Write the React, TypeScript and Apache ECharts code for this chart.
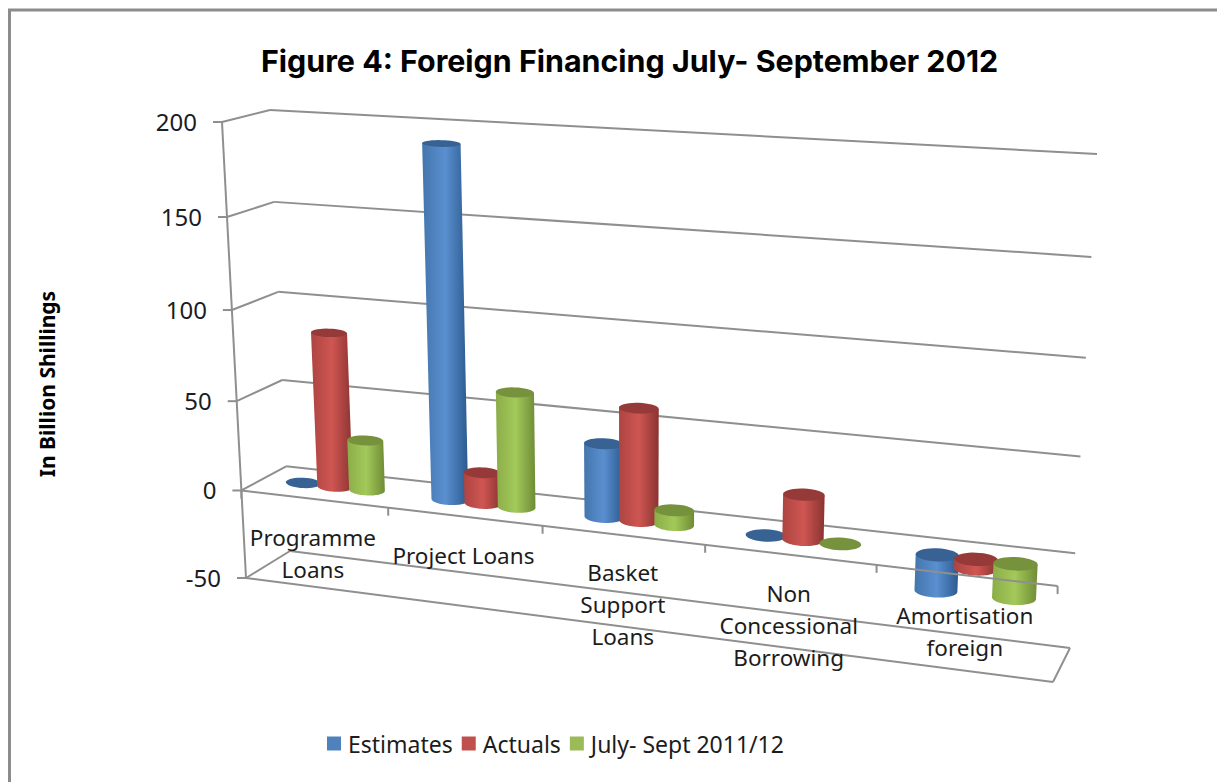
import React, { useEffect, useRef } from "react";
import * as echarts from "echarts";

const categories = ["Programme\nLoans", "Project Loans", "Basket\nSupport\nLoans", "Non\nConcessional\nBorrowing", "Amortisation\nforeign"];
const estimates = [0, 192, 40, 0, -19];
const actuals = [86, 17, 61, 24, -5];
const priorYear = [28, 63, 8, 0, -18];
const valueTicks = [200, 150, 100, 50, 0, -50];

const seriesNames = ["Estimates", "Actuals", "July- Sept 2011/12"];
const legendColors = ["#4f81bd", "#c0504d", "#9bbb59"];
// edge, centre and cap tones of each cylinder
const cylinderTones = [
  { edgeL: "#4476ad", mid: "#5a8fd0", edgeR: "#2c5a8e", cap: "#376293" },
  { edgeL: "#ad4441", mid: "#cf5652", edgeR: "#8a3331", cap: "#953a38" },
  { edgeL: "#8bad48", mid: "#a3c95a", edgeR: "#6f8c35", cap: "#76923c" },
];

const TEXT = "#1c1c1c";
const LINE = "#8f8f8f";
const SANS = "'Noto Sans', sans-serif";

// Corners of the plot box on screen: front/back, left/right, top (max) / bottom (min)
const FL = { top: [222, 122], bot: [246, 578] };
const FR = { top: [1077, 182], bot: [1053, 682] };
const BL = { top: [270, 110], bot: [290, 551] };
const BR = { top: [1097, 154], bot: [1070, 648] };

const lerp = (a: number, b: number, t: number) => a + (b - a) * t;
const lerp2 = (p: number[], q: number[], t: number) => [lerp(p[0], q[0], t), lerp(p[1], q[1], t)];
// foreshortening along an edge
const warp = (t: number, k: number) => t / (t + k * (1 - t));

// u: 0..1 along the categories, h: 0..1 from axis min to max, d: 0 front .. 1 back
function project(u: number, h: number, d: number) {
  const su = warp(u, 1.14);
  const sf = warp(1 - h, 0.95);
  const fl = lerp2(FL.top, FL.bot, sf);
  const fr = lerp2(FR.top, FR.bot, sf);
  const bl = lerp2(BL.top, BL.bot, sf);
  const br = lerp2(BR.top, BR.bot, sf);
  return lerp2(lerp2(fl, fr, su), lerp2(bl, br, su), d);
}

// Normalises a pixel from the cartesian grid into box coordinates
function toBox(api: any, params: any, cat: number, value: number, bandOffset = 0) {
  const cs = params.coordSys;
  const p = api.coord([cat, value]);
  const band = api.size([1, 0])[0];
  return {
    u: (p[0] + bandOffset * band - cs.x) / cs.width,
    h: (cs.y + cs.height - p[1]) / cs.height,
  };
}

const hLevel = (api: any, params: any, value: number) => toBox(api, params, 0, value).h;

const seg = (a: number[], b: number[]) => ({
  type: "line",
  shape: { x1: a[0], y1: a[1], x2: b[0], y2: b[1] },
  style: { stroke: LINE, lineWidth: 2 },
  silent: true,
});

function renderWalls(params: any, api: any) {
  const children: any[] = [];
  valueTicks.forEach((v) => {
    const h = hLevel(api, params, v);
    const front = project(0, h, 0);
    const back = project(0, h, 1);
    const right = project(1, h, 1);
    children.push(seg([front[0] - 9, front[1]], front), seg(front, back), seg(back, right));
    children.push({
      type: "text",
      style: { text: String(v), x: front[0] - 25, y: front[1] - 1, align: "right", verticalAlign: "middle", font: `24px ${SANS}`, fill: TEXT },
    });
  });
  const hTop = hLevel(api, params, valueTicks[0]);
  const hBot = hLevel(api, params, valueTicks[valueTicks.length - 1]);
  children.push(seg(project(0, hTop, 0), project(0, hBot, 0)));
  children.push(seg(project(0, hBot, 0), project(1, hBot, 0)));
  children.push(seg(project(1, hBot, 0), project(1, hBot, 1)));
  return { type: "group", children };
}

function renderFrontAxis(params: any, api: any) {
  const h0 = hLevel(api, params, 0);
  const children: any[] = [seg(project(0, h0, 0), project(1, h0, 0))];
  for (let i = 0; i <= categories.length; i++) {
    const p = project(i / categories.length, h0, 0);
    children.push(seg(p, [p[0], p[1] + 8]));
  }
  return { type: "group", children };
}

const labelNudge = [[-1, -2], [-1, -18], [0, 12], [-1, 14], [-1, -1]];

function renderCategoryLabel(params: any, api: any) {
  const i = params.dataIndex;
  const { u, h } = toBox(api, params, i, 0);
  const p = project(u, h, 0);
  return {
    type: "text",
    style: {
      text: categories[i],
      x: p[0] + labelNudge[i][0],
      y: p[1] + 57 + labelNudge[i][1],
      align: "center",
      verticalAlign: "middle",
      font: `22.5px ${SANS}`,
      lineHeight: 32,
      fill: TEXT,
    },
  };
}

const HALF_DEPTH = 0.21;
const RADIUS = 0.0245;
const CENTRE_STEP = 0.044;

function ellipsePoints(c: number[], a: number, b: number, tilt: number, from: number, to: number, n = 36) {
  const pts: number[][] = [];
  for (let i = 0; i <= n; i++) {
    const t = lerp(from, to, i / n);
    pts.push([c[0] + a * Math.cos(t), c[1] + a * tilt * Math.cos(t) + b * Math.sin(t)]);
  }
  return pts;
}

function capGeometry(u: number, h: number) {
  const c = project(u, h, 0.5);
  const l = project(u - RADIUS, h, 0.5);
  const r = project(u + RADIUS, h, 0.5);
  const a = (r[0] - l[0]) / 2;
  const tilt = ((r[1] - l[1]) / (r[0] - l[0])) * 0.35;
  const b = (project(u, h, 0)[1] - project(u, h, 1)[1]) * HALF_DEPTH;
  return { c, a, b, tilt };
}

function makeCylinderRenderer(seriesIndex: number) {
  const tone = cylinderTones[seriesIndex];
  return (params: any, api: any) => {
    const cat = api.value(0);
    const val = api.value(1);
    const offset = (seriesIndex - 1) * (CENTRE_STEP * categories.length);
    const high = toBox(api, params, cat, Math.max(val, 0), offset);
    const low = toBox(api, params, cat, Math.min(val, 0), offset);
    const capTop = capGeometry(high.u, high.h);
    const capLow = capGeometry(low.u, low.h);
    const children: any[] = [];
    if (val !== 0) {
      const lowerArc = ellipsePoints(capLow.c, capLow.a, capLow.b, capLow.tilt, Math.PI, 0);
      const left = [capTop.c[0] - capTop.a, capTop.c[1] - capTop.a * capTop.tilt];
      const right = [capTop.c[0] + capTop.a, capTop.c[1] + capTop.a * capTop.tilt];
      children.push({
        type: "polygon",
        shape: { points: [left, ...lowerArc, right] },
        style: {
          fill: new echarts.graphic.LinearGradient(0, 0, 1, 0, [
            { offset: 0, color: tone.edgeL },
            { offset: 0.5, color: tone.mid },
            { offset: 1, color: tone.edgeR },
          ]),
        },
      });
    }
    children.push({
      type: "polygon",
      shape: { points: ellipsePoints(capTop.c, capTop.a, capTop.b, capTop.tilt, 0, Math.PI * 2) },
      style: { fill: tone.cap },
    });
    return { type: "group", children };
  };
}

const valuesBySeries = [estimates, actuals, priorYear];

export default function App() {
  const ref = useRef<HTMLDivElement>(null);
  useEffect(() => {
    if (!ref.current) return;
    const chart = echarts.init(ref.current, undefined, { renderer: "svg" });
    const catIdx = categories.map((_, i) => i);
    chart.setOption({
      animation: false,
      backgroundColor: "#ffffff",
      title: {
        text: "Figure 4: Foreign Financing July- September 2012",
        left: 256,
        top: 41,
        textStyle: { fontFamily: "Inter, sans-serif", fontWeight: 700, fontSize: 30.4, color: "#000000" },
      },
      legend: {
        data: seriesNames,
        left: 322,
        top: 727,
        icon: "rect",
        itemWidth: 14,
        itemHeight: 14,
        itemGap: 9,
        textStyle: { fontFamily: SANS, fontSize: 23, color: TEXT, padding: [0, 0, 0, 2] },
      },
      grid: { left: 100, top: 100, width: 800, height: 500 },
      xAxis: { type: "category", data: categories, show: false },
      yAxis: { type: "value", min: -50, max: 200, interval: 50, show: false },
      graphic: [
        {
          type: "rect",
          shape: { x: 9.5, y: 10, width: 1240, height: 800 },
          style: { fill: "none", stroke: "#8c8c8c", lineWidth: 3 },
          silent: true,
          z: -1,
        },
        {
          type: "text",
          x: 47,
          y: 384,
          rotation: Math.PI / 2,
          style: { text: "In Billion Shillings", align: "center", verticalAlign: "middle", font: `bold 21px ${SANS}`, fill: "#000000" },
        },
      ],
      series: [
        { type: "custom", z: 1, silent: true, renderItem: renderWalls, data: [[0, 0]], encode: { x: 0, y: 1 } },
        ...seriesNames.map((name, s) => ({
          type: "custom",
          name,
          z: 2,
          silent: true,
          itemStyle: { color: legendColors[s] },
          renderItem: makeCylinderRenderer(s),
          data: catIdx.map((i) => [i, valuesBySeries[s][i]]),
          encode: { x: 0, y: 1 },
        })),
        { type: "custom", z: 3, silent: true, renderItem: renderFrontAxis, data: [[0, 0]], encode: { x: 0, y: 1 } },
        { type: "custom", z: 4, silent: true, renderItem: renderCategoryLabel, data: catIdx.map((i) => [i, 0]), encode: { x: 0, y: 1 } },
      ],
    });
    return () => chart.dispose();
  }, []);
  return <div ref={ref} style={{ position: "fixed", left: 0, top: 0, width: 1217, height: 782 }} />;
}
